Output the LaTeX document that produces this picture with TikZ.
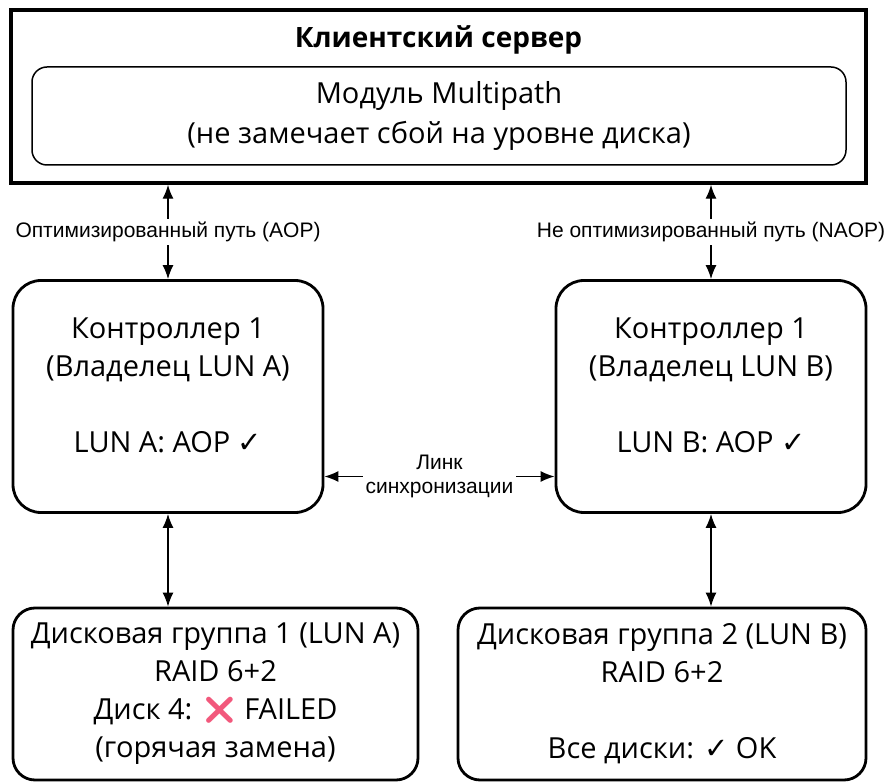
\documentclass[tikz,border=0pt]{standalone}
\usepackage{fontspec}
\setmainfont{Open Sans}
\newfontfamily\labelfont{Liberation Sans}
\newfontfamily\symfont{DejaVu Sans}
\newfontfamily\emojifont{Noto Emoji}
\usetikzlibrary{arrows.meta}
\definecolor{failpink}{RGB}{242,88,124}
\tikzset{
	boxfont/.style={font=\fontsize{29}{38}\selectfont},
	serverbox/.style={draw, line width=3.5pt, minimum width=855pt, minimum height=173pt},
	modulebox/.style={draw, line width=1.5pt, rounded corners=15pt, minimum width=814pt, minimum height=98pt, align=center, font=\fontsize{29}{40}\selectfont},
	ctrlbox/.style={draw, line width=2.8pt, rounded corners=28pt, minimum width=310pt, minimum height=232pt},
	ctrltext/.style={align=center, boxfont},
	diskbox/.style={draw, line width=2.8pt, rounded corners=22pt, minimum height=172pt, align=center, boxfont},
	link/.style={{Latex[length=14pt, width=11pt]}-{Latex[length=14pt, width=11pt]}, line width=1.4pt},
	pathlabel/.style={fill=white, inner sep=3pt, align=center, font=\labelfont\fontsize{21}{24}\selectfont}
}

\begin{document}
\begin{tikzpicture}[x=1pt, y=-1pt]
		\useasboundingbox (0,0) rectangle (886,783);
		% Server with its multipath module:
		\node[serverbox] (server) at (438.5, 96.5){};
		\node[font=\bfseries\fontsize{28}{34}\selectfont] (title) at (438.5, 40){Клиентский сервер};
		\node[modulebox] (multipath) at (439, 116){Модуль Multipath\\(не замечает сбой на уровне диска)};
		% Controllers:
		\node[ctrlbox] (ctrlA) at (168, 396.5){};
		\node[ctrltext] (ctrlAtext) at (168, 385.5){Контроллер 1\\(Владелец LUN A)\\[38pt]LUN A: AOP {\symfont ✓}};
		\node[ctrlbox] (ctrlB) at (711, 396.5){};
		\node[ctrltext] (ctrlBtext) at (711, 385.5){Контроллер 1\\(Владелец LUN B)\\[38pt]LUN B: AOP {\symfont ✓}};
		% Disk groups:
		\node[diskbox, minimum width=405pt] (diskA) at (215.5, 694){Дисковая группа 1 (LUN A)\\RAID 6+2\\Диск 4: {\emojifont\fontsize{27}{38}\selectfont\color{failpink}❌} FAILED\\(горячая замена)};
		\node[diskbox, minimum width=408pt] (diskB) at (662, 694){Дисковая группа 2 (LUN B)\\RAID 6+2\\[38pt]Все диски: {\symfont ✓} OK};
		% Paths:
		\draw[link] (ctrlA.north |- server.south) -- node[pathlabel] (aoplabel) {Оптимизированный путь (AOP)} (ctrlA.north);
		\draw[link] (ctrlB.north |- server.south) -- node[pathlabel] (naoplabel) {Не оптимизированный путь (NAOP)} (ctrlB.north);
		\draw[link] ([yshift=-80pt]ctrlA.east) -- node[pathlabel] (synclabel) {Линк\\синхронизации} ([yshift=-80pt]ctrlB.west);
		\draw[link] (ctrlA.south) -- (ctrlA.south |- diskA.north);
		\draw[link] (ctrlB.south) -- (ctrlB.south |- diskB.north);
	\end{tikzpicture}
\end{document}
